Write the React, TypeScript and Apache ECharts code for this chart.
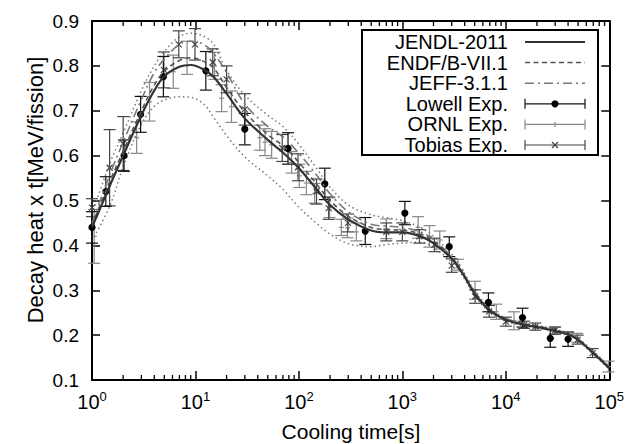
import React, { useEffect, useRef } from "react";
import * as echarts from "echarts";

const FONT = "'Liberation Sans', Arial, Helvetica, sans-serif";

// Cooling time grid for calculated curves [s]
const tCurve = [1, 1.5, 2, 3, 4, 5, 7, 9, 12, 15, 20, 30, 50, 70, 100, 150, 200, 300, 500, 700, 1000, 1500, 2000, 3000, 4000, 5000, 7000, 10000, 15000, 20000, 30000, 45000, 70000, 100000];

const jendl = [0.44, 0.535, 0.6, 0.69, 0.745, 0.777, 0.798, 0.802, 0.792, 0.775, 0.738, 0.683, 0.635, 0.607, 0.572, 0.524, 0.49, 0.458, 0.433, 0.429, 0.429, 0.42, 0.405, 0.37, 0.33, 0.292, 0.255, 0.234, 0.223, 0.218, 0.209, 0.196, 0.16, 0.126];
const endf = [0.445, 0.545, 0.61, 0.7, 0.757, 0.788, 0.812, 0.818, 0.81, 0.795, 0.752, 0.697, 0.647, 0.622, 0.585, 0.535, 0.5, 0.465, 0.44, 0.435, 0.434, 0.425, 0.41, 0.373, 0.332, 0.295, 0.257, 0.236, 0.225, 0.22, 0.211, 0.198, 0.162, 0.128];
const jeff = [0.45, 0.56, 0.63, 0.725, 0.785, 0.815, 0.848, 0.855, 0.848, 0.828, 0.785, 0.715, 0.665, 0.642, 0.605, 0.555, 0.515, 0.475, 0.447, 0.443, 0.44, 0.43, 0.413, 0.374, 0.333, 0.295, 0.257, 0.236, 0.225, 0.22, 0.211, 0.198, 0.162, 0.128];
const upperBand = [0.47, 0.585, 0.65, 0.745, 0.8, 0.832, 0.865, 0.873, 0.866, 0.848, 0.79, 0.735, 0.69, 0.665, 0.625, 0.57, 0.53, 0.49, 0.468, 0.462, 0.455, 0.44, 0.42, 0.38, 0.337, 0.298, 0.26, 0.238, 0.227, 0.222, 0.213, 0.2, 0.164, 0.13];
const lowerBand = [0.41, 0.49, 0.575, 0.67, 0.71, 0.724, 0.731, 0.73, 0.715, 0.685, 0.645, 0.597, 0.555, 0.525, 0.485, 0.448, 0.425, 0.404, 0.397, 0.402, 0.405, 0.407, 0.395, 0.362, 0.325, 0.288, 0.251, 0.231, 0.221, 0.216, 0.207, 0.194, 0.158, 0.124];

// Experiments: [time, value, error]
const lowell = [[1, 0.44, 0.035], [1.36, 0.52, 0.033], [2.04, 0.6, 0.035], [2.95, 0.692, 0.04], [4.9, 0.776, 0.045], [12.6, 0.789, 0.043], [30, 0.659, 0.035], [78.5, 0.616, 0.035], [178, 0.537, 0.035], [438, 0.432, 0.03], [1057, 0.472, 0.026], [2840, 0.397, 0.022], [6790, 0.273, 0.021], [14500, 0.239, 0.021], [26900, 0.193, 0.02], [40000, 0.191, 0.016]];
const ornl = [[1.05, 0.42, 0.06], [2.7, 0.64, 0.035], [3.6, 0.72, 0.043], [6.1, 0.787, 0.037], [8.3, 0.818, 0.037], [15.3, 0.8, 0.03], [17.9, 0.728, 0.03], [22.3, 0.709, 0.035], [41.9, 0.64, 0.028], [47, 0.63, 0.03], [54.5, 0.624, 0.03], [85, 0.585, 0.024], [101, 0.555, 0.026], [118, 0.539, 0.026], [142, 0.516, 0.022], [198, 0.484, 0.022], [257, 0.44, 0.018], [295, 0.439, 0.022], [359, 0.43, 0.02], [700, 0.437, 0.022], [1420, 0.44, 0.024], [1830, 0.42, 0.024], [2300, 0.412, 0.02], [3460, 0.357, 0.012], [5040, 0.3, 0.02], [8100, 0.252, 0.017], [12000, 0.232, 0.02], [30000, 0.21, 0.008], [49000, 0.194, 0.01], [98000, 0.13, 0.012]];
const tobias = [[1, 0.484, 0.02], [1.48, 0.573, 0.085], [2.0, 0.627, 0.06], [4.95, 0.791, 0.04], [6.9, 0.848, 0.03], [9.9, 0.848, 0.035], [14.7, 0.808, 0.03], [20, 0.77, 0.03], [30, 0.703, 0.035], [69, 0.617, 0.03], [98, 0.574, 0.03], [148, 0.52, 0.028], [194, 0.483, 0.025], [298, 0.45, 0.02], [700, 0.43, 0.02], [1000, 0.43, 0.02], [1460, 0.42, 0.015], [2040, 0.401, 0.015], [3000, 0.355, 0.015], [5050, 0.286, 0.015], [6900, 0.253, 0.013], [10000, 0.23, 0.01], [15000, 0.223, 0.008], [19300, 0.219, 0.008], [29800, 0.21, 0.008], [49500, 0.19, 0.01], [69000, 0.16, 0.01]];

const legendNames = ["JENDL-2011", "ENDF/B-VII.1", "JEFF-3.1.1", "Lowell Exp.", "ORNL Exp.", "Tobias Exp."];
const yTicks = [0.1, 0.2, 0.3, 0.4, 0.5, 0.6, 0.7, 0.8, 0.9];
const minorT: number[] = [];
for (let n = 0; n < 5; n++) for (let k = 2; k <= 9; k++) minorT.push(k * Math.pow(10, n));

const toPairs = (ys: number[]) => tCurve.map((t, i) => [t, ys[i]]);
const toErr = (rows: number[][]) => rows.map((r) => [r[0], r[1] - r[2], r[1] + r[2], r[1]]);

function errSeries(name: string, rows: number[][], color: string, marker: "dot" | "plus" | "cross", z: number) {
  return {
    name,
    type: "custom",
    xAxisIndex: 0,
    yAxisIndex: 0,
    z,
    data: toErr(rows),
    encode: { x: 0, y: [1, 2, 3] },
    renderItem: (params: any, api: any) => {
      const t = api.value(0);
      const lo = api.coord([t, api.value(1)]);
      const hi = api.coord([t, api.value(2)]);
      const c = api.coord([t, api.value(3)]);
      const w = 6;
      const st = { stroke: color, lineWidth: 1.2, fill: "none" };
      const children: any[] = [
        { type: "line", shape: { x1: lo[0], y1: lo[1], x2: hi[0], y2: hi[1] }, style: st },
        { type: "line", shape: { x1: lo[0] - w, y1: lo[1], x2: lo[0] + w, y2: lo[1] }, style: st },
        { type: "line", shape: { x1: hi[0] - w, y1: hi[1], x2: hi[0] + w, y2: hi[1] }, style: st },
      ];
      if (marker === "dot") {
        children.push({ type: "circle", shape: { cx: c[0], cy: c[1], r: 3.6 }, style: { fill: "#000" } });
      } else if (marker === "plus") {
        children.push({ type: "line", shape: { x1: c[0] - 2.5, y1: c[1], x2: c[0] + 2.5, y2: c[1] }, style: st });
      } else {
        const s = 3;
        children.push({ type: "line", shape: { x1: c[0] - s, y1: c[1] - s, x2: c[0] + s, y2: c[1] + s }, style: st });
        children.push({ type: "line", shape: { x1: c[0] - s, y1: c[1] + s, x2: c[0] + s, y2: c[1] - s }, style: st });
      }
      return { type: "group", children };
    },
  };
}

function lineSeries(name: string, ys: number[], color: string, width: number, type: any, z: number) {
  return {
    name,
    type: "line",
    data: toPairs(ys),
    smooth: 0.35,
    showSymbol: false,
    symbol: "none",
    z,
    lineStyle: { color, width, type },
  };
}

export default function App() {
  const ref = useRef<HTMLDivElement>(null);
  useEffect(() => {
    if (!ref.current) return;
    document.body.style.margin = "0";
    const chart = echarts.init(ref.current, null, { renderer: "svg" });
    const rowY = [42, 62.6, 83.2, 103.8, 124.4, 145];
    const lx1 = 525, lx2 = 585, lmid = 555;
    const legendGraphics: any[] = [
      { type: "rect", shape: { x: 362, y: 30, width: 236, height: 125 }, style: { fill: "#fff", stroke: "#000", lineWidth: 2 }, z: 100 },
    ];
    legendNames.forEach((n, i) => {
      legendGraphics.push({
        type: "text", x: 508, y: rowY[i], z: 101,
        style: { text: n, fontSize: 20, fontFamily: FONT, fill: "#000", align: "right", verticalAlign: "middle" },
      });
    });
    const samp = (i: number, stroke: string, lw: number, dash?: number[]) => ({
      type: "line", z: 101, shape: { x1: lx1, y1: rowY[i], x2: lx2, y2: rowY[i] },
      style: { stroke, lineWidth: lw, lineDash: dash },
    });
    legendGraphics.push(samp(0, "#333", 2));
    legendGraphics.push(samp(1, "#555", 1.5, [5, 3.5]));
    legendGraphics.push(samp(2, "#777", 1.5, [9, 4, 2, 4]));
    const errColors = ["#111", "#888", "#444"];
    [3, 4, 5].forEach((i, k) => {
      const col = errColors[k];
      legendGraphics.push(samp(i, col, 1.2));
      legendGraphics.push({ type: "line", z: 101, shape: { x1: lx1, y1: rowY[i] - 5, x2: lx1, y2: rowY[i] + 5 }, style: { stroke: col, lineWidth: 1.2 } });
      legendGraphics.push({ type: "line", z: 101, shape: { x1: lx2, y1: rowY[i] - 5, x2: lx2, y2: rowY[i] + 5 }, style: { stroke: col, lineWidth: 1.2 } });
    });
    legendGraphics.push({ type: "circle", z: 102, shape: { cx: lmid, cy: rowY[3], r: 3.6 }, style: { fill: "#000" } });
    legendGraphics.push({ type: "line", z: 102, shape: { x1: lmid, y1: rowY[4] - 2.5, x2: lmid, y2: rowY[4] + 2.5 }, style: { stroke: "#888", lineWidth: 1.2 } });
    legendGraphics.push({ type: "line", z: 102, shape: { x1: lmid - 3, y1: rowY[5] - 3, x2: lmid + 3, y2: rowY[5] + 3 }, style: { stroke: "#444", lineWidth: 1.2 } });
    legendGraphics.push({ type: "line", z: 102, shape: { x1: lmid - 3, y1: rowY[5] + 3, x2: lmid + 3, y2: rowY[5] - 3 }, style: { stroke: "#444", lineWidth: 1.2 } });
    legendGraphics.push({
      type: "text", x: 351, y: 431, z: 101,
      style: { text: "Cooling time[s]", fontSize: 21, fontFamily: FONT, fill: "#000", align: "center", verticalAlign: "middle" },
    });
    legendGraphics.push({
      type: "text", x: 35, y: 190, rotation: Math.PI / 2, z: 101,
      style: { text: "Decay heat x t[MeV/fission]", fontSize: 22, fontFamily: FONT, fill: "#000", align: "center", verticalAlign: "middle" },
    });

    const xBase = {
      type: "log", logBase: 10, min: 1, max: 100000,
      axisLine: { show: true, onZero: false, lineStyle: { color: "#000", width: 2 } },
      axisTick: { show: true, inside: true, length: 9, lineStyle: { color: "#000", width: 1.5 } },
      splitLine: { show: false },
      minorTick: { show: false },
    };
    const yBase = {
      type: "value", min: 0.1, max: 0.9, interval: 0.1,
      axisLine: { show: true, onZero: false, lineStyle: { color: "#000", width: 2 } },
      axisTick: { show: true, inside: true, length: 8, lineStyle: { color: "#000", width: 1.5 } },
      splitLine: { show: false },
    };

    const option: any = {
      animation: false,
      backgroundColor: "#fff",
      grid: { left: 92, right: 17, top: 21, bottom: 64, containLabel: false },
      xAxis: [
        {
          ...xBase, position: "bottom",
          axisLabel: {
            margin: 10,
            formatter: (v: number) => `{b|10}{s|${Math.round(Math.log10(v))}}`,
            rich: {
              b: { fontSize: 20, fontFamily: FONT, color: "#000", verticalAlign: "bottom", lineHeight: 20 },
              s: { fontSize: 13, fontFamily: FONT, color: "#000", verticalAlign: "top", lineHeight: 22 },
            },
          },
        },
        { ...xBase, position: "top", axisLabel: { show: false } },
      ],
      yAxis: [
        {
          ...yBase, position: "left",
          axisLabel: {
            margin: 13, fontSize: 19, fontFamily: FONT, color: "#000",
            formatter: (v: number) => {
              const r = Math.round(v * 10) / 10;
              return yTicks.indexOf(r) >= 0 ? r.toFixed(1) : "";
            },
          },
        },
        { ...yBase, position: "right", axisLabel: { show: false } },
      ],
      graphic: legendGraphics,
      series: [
        {
          name: "minorTicks", type: "custom", silent: true, z: 20,
          data: minorT.map((t) => [t]), encode: { x: 0 },
          renderItem: (params: any, api: any) => {
            const t = api.value(0);
            const b = api.coord([t, 0.1]);
            const tp = api.coord([t, 0.9]);
            const st = { stroke: "#000", lineWidth: 1.3 };
            return {
              type: "group",
              children: [
                { type: "line", shape: { x1: b[0], y1: b[1], x2: b[0], y2: b[1] - 5 }, style: st },
                { type: "line", shape: { x1: tp[0], y1: tp[1], x2: tp[0], y2: tp[1] + 5 }, style: st },
              ],
            };
          },
        },
        lineSeries("upper", upperBand, "#777", 1.5, [1.5, 3], 5),
        lineSeries("lower", lowerBand, "#777", 1.5, [1.5, 3], 5),
        errSeries("ORNL Exp.", ornl, "#888", "plus", 6),
        errSeries("Tobias Exp.", tobias, "#444", "cross", 7),
        errSeries("Lowell Exp.", lowell, "#111", "dot", 8),
        lineSeries("JEFF-3.1.1", jeff, "#777", 1.6, [9, 4, 2, 4], 9),
        lineSeries("ENDF/B-VII.1", endf, "#555", 1.6, [5, 3.5], 9),
        lineSeries("JENDL-2011", jendl, "#333", 2.2, "solid", 10),
      ],
    };
    chart.setOption(option);
    return () => chart.dispose();
  }, []);
  return <div ref={ref} style={{ width: 627, height: 444 }} />;
}
